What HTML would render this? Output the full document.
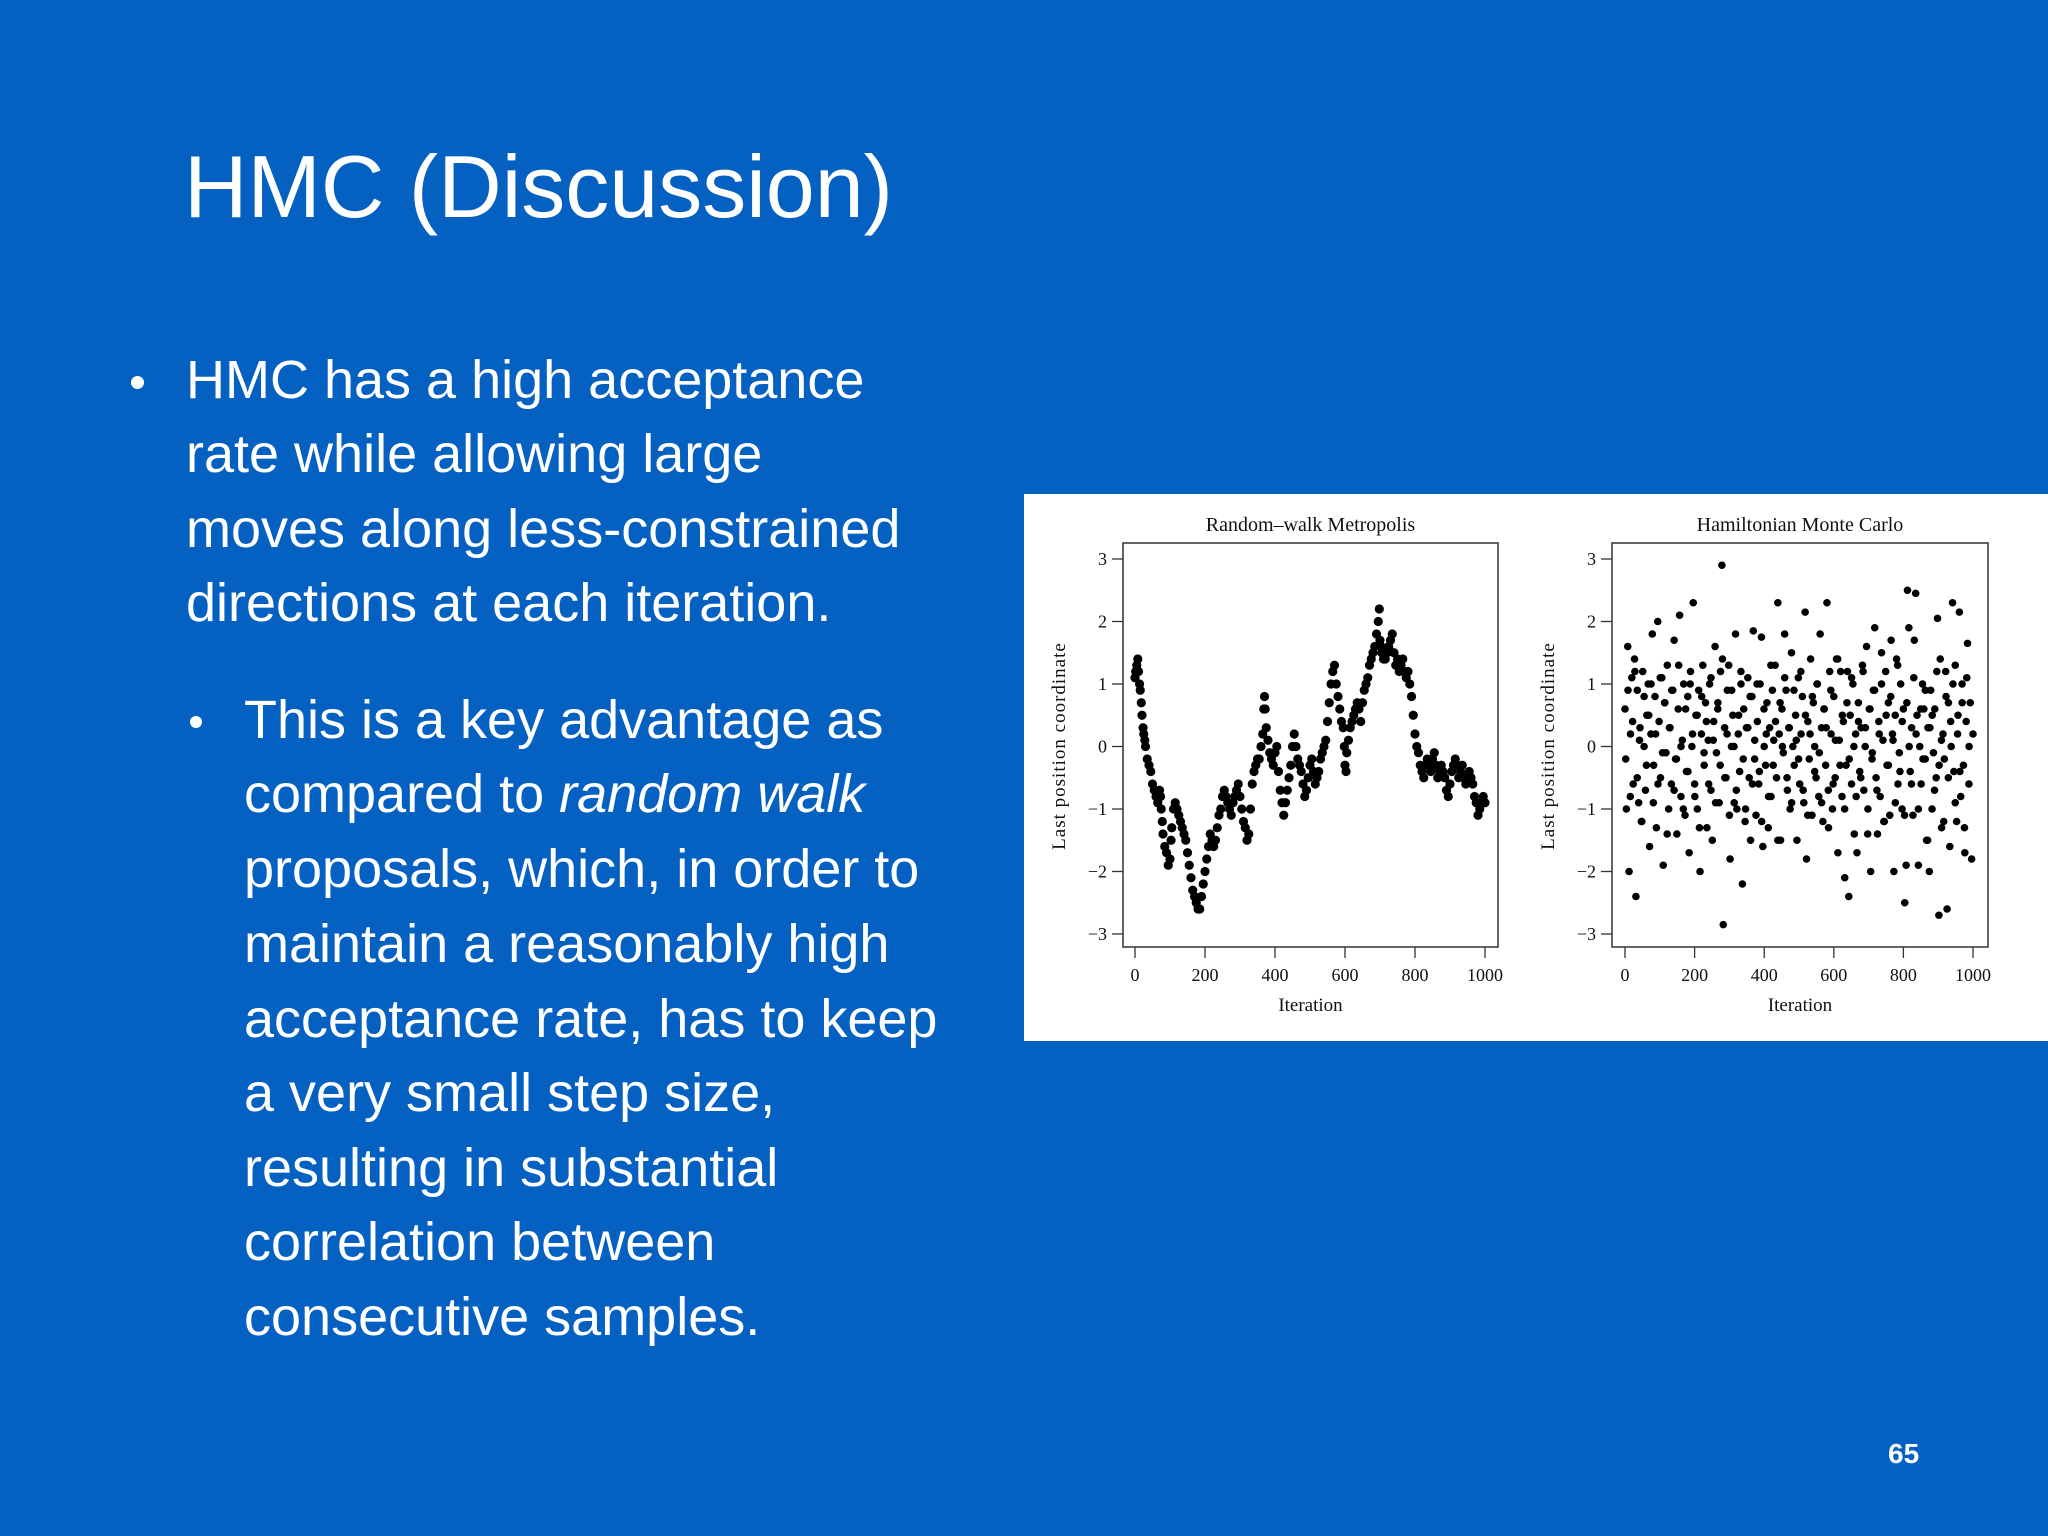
<!DOCTYPE html>
<html><head><meta charset="utf-8">
<style>
body{margin:0;width:2048px;height:1536px;background:#0561c1;overflow:hidden;position:relative;font-family:"Liberation Sans",sans-serif;color:#fff}
.t{position:absolute;white-space:nowrap;line-height:1}
.l{position:absolute;white-space:nowrap;font-size:54px;line-height:74px;height:74px}
.b{position:absolute;width:13px;height:13px;border-radius:50%;background:#fff}
</style></head><body>
<div class="t" style="left:184px;top:143px;font-size:88px">HMC (Discussion)</div>
<div class="b" style="left:131px;top:376px"></div>
<div>
<div class="l" style="left:186px;top:343px">HMC has a high acceptance</div>
<div class="l" style="left:186px;top:417px">rate while allowing large</div>
<div class="l" style="left:186px;top:492px">moves along less-constrained</div>
<div class="l" style="left:186px;top:566px">directions at each iteration.</div>
</div>
<div class="b" style="left:190px;top:716px;width:12px;height:12px"></div>
<div>
<div class="l" style="left:244px;top:683px">This is a key advantage as</div>
<div class="l" style="left:244px;top:757px">compared to <i>random walk</i></div>
<div class="l" style="left:244px;top:832px">proposals, which, in order to</div>
<div class="l" style="left:244px;top:907px">maintain a reasonably high</div>
<div class="l" style="left:244px;top:982px">acceptance rate, has to keep</div>
<div class="l" style="left:244px;top:1056px">a very small step size,</div>
<div class="l" style="left:244px;top:1131px">resulting in substantial</div>
<div class="l" style="left:244px;top:1205px">correlation between</div>
<div class="l" style="left:244px;top:1280px">consecutive samples.</div>
</div>
<div class="t" style="left:1888px;top:1440px;font-size:28px;font-weight:bold">65</div>
<svg id="chart" style="position:absolute;left:1024px;top:494px" width="1024" height="547" font-family="Liberation Serif, serif"></svg>
<script>
const rwIter=[0,5,10,15,20,25,30,40,50,60,70,75,80,90,100,105,115,125,135,145,155,165,175,185,195,205,215,225,235,245,255,265,275,285,295,305,315,325,335,345,355,365,370,375,385,395,405,415,425,435,445,455,465,475,485,495,505,515,525,535,545,555,565,575,585,595,600,605,615,625,635,645,655,665,675,685,695,700,705,715,725,735,745,755,765,775,785,795,805,815,825,835,845,855,865,875,885,895,905,915,925,935,945,955,965,975,985,995];
const rwVal=[1.1,1.3,1.2,0.9,0.5,0.2,0.0,-0.3,-0.6,-0.8,-0.7,-1.0,-1.4,-1.7,-1.8,-1.3,-0.9,-1.1,-1.3,-1.5,-1.9,-2.3,-2.5,-2.6,-2.2,-1.8,-1.4,-1.6,-1.3,-1.0,-0.7,-0.9,-1.1,-0.8,-0.6,-1.0,-1.3,-1.4,-0.6,-0.3,-0.2,0.2,0.8,0.3,-0.1,-0.3,0.0,-0.7,-1.1,-0.7,-0.3,0.2,-0.2,-0.4,-0.8,-0.5,-0.2,-0.6,-0.4,-0.1,0.1,0.7,1.2,1.0,0.6,0.3,-0.3,-0.1,0.3,0.5,0.7,0.4,0.9,1.1,1.4,1.6,2.0,1.7,1.5,1.4,1.6,1.8,1.3,1.2,1.4,1.1,1.0,0.5,0.0,-0.3,-0.5,-0.2,-0.4,-0.1,-0.5,-0.3,-0.5,-0.8,-0.4,-0.2,-0.5,-0.3,-0.6,-0.4,-0.6,-0.9,-1.0,-0.8];
const rwIter2=[2,8,13,18,23,28,35,45,55,65,73,78,85,95,103,110,120,130,140,150,160,170,180,190,200,210,220,230,240,250,260,270,280,290,300,310,320,330,340,350,360,368,372,380,390,400,410,420,430,440,450,460,470,480,490,500,510,520,530,540,550,560,570,580,590,598,603,610,620,630,640,650,660,670,680,690,698,703,710,720,730,740,750,760,770,780,790,800,810,820,830,840,850,860,870,880,890,900,910,920,930,940,950,960,970,980,990,1000];
const rwVal2=[1.2,1.4,1.0,0.7,0.3,0.1,-0.2,-0.4,-0.7,-0.9,-0.8,-1.2,-1.6,-1.9,-1.5,-1.0,-1.0,-1.2,-1.4,-1.7,-2.1,-2.4,-2.6,-2.4,-2.0,-1.6,-1.5,-1.5,-1.1,-0.8,-0.8,-1.0,-0.9,-0.7,-0.8,-1.2,-1.5,-1.0,-0.4,-0.2,0.0,0.6,0.6,0.1,-0.2,-0.1,-0.4,-0.9,-0.9,-0.5,0.0,0.0,-0.3,-0.6,-0.7,-0.3,-0.4,-0.5,-0.2,0.0,0.4,1.0,1.3,0.8,0.4,0.0,-0.4,0.1,0.4,0.6,0.6,0.7,1.0,1.3,1.5,1.8,2.2,1.6,1.4,1.5,1.7,1.5,1.4,1.3,1.2,1.2,0.8,0.2,-0.1,-0.4,-0.3,-0.3,-0.2,-0.3,-0.4,-0.4,-0.7,-0.6,-0.3,-0.3,-0.4,-0.5,-0.5,-0.5,-0.8,-1.1,-0.9,-0.9];
const hmcVal=[0.6,-1.0,1.6,-2.0,0.2,1.1,-0.6,1.4,-2.4,0.9,-0.9,0.3,-1.2,1.2,0.0,-0.7,0.5,1.0,-1.6,0.2,1.8,-0.3,0.8,-1.3,2.0,0.4,-0.5,1.1,-1.9,0.7,-0.1,1.3,-1.0,0.3,-0.6,0.9,1.7,-0.2,-1.4,0.6,2.1,-0.8,0.1,1.0,-1.1,-0.4,0.8,-1.7,1.2,0.0,2.3,-0.6,0.5,-1.0,0.9,-2.0,0.2,1.3,-0.3,0.7,-1.3,0.1,1.0,-0.7,-1.5,0.4,1.6,-0.1,0.6,-0.9,1.2,2.9,-2.85,0.3,-0.5,0.9,1.3,-1.8,0.0,0.5,-0.9,1.8,-1.0,0.2,-0.4,1.0,-2.2,0.6,-1.2,0.3,1.1,-0.5,-1.5,0.8,1.85,-0.2,-1.1,0.4,-0.6,1.0,1.75,-1.6,0.0,-0.3,0.7,-1.3,0.3,-0.8,0.9,0.1,1.3,-0.5,2.3,0.2,-1.5,0.6,-0.1,1.8,0.9,-0.7,0.3,-1.0,1.5,0.0,-0.3,0.5,-1.5,1.1,-0.6,0.2,0.8,-0.9,2.15,-1.8,0.4,-0.2,1.4,-1.1,0.7,0.0,-0.5,1.0,-0.8,1.8,0.3,-1.2,0.6,-0.3,2.3,-0.7,1.2,0.2,-1.0,0.8,-0.5,1.4,-1.7,0.1,1.2,-0.8,0.4,-2.1,-0.3,1.2,-2.4,0.5,-0.6,1.0,-1.4,0.2,-1.7,0.7,-0.4,0.3,1.3,-0.7,0.0,1.6,-1.0,0.6,-2.0,-0.2,0.9,1.9,-0.5,-1.4,0.4,-0.8,1.5,0.1,-1.2,1.2,-0.3,0.7,-1.1,1.7,0.2,-2.0,0.5,1.4,-0.6,-0.1,1.0,-1.0,0.6,-2.5,-1.9,2.5,1.9,-0.4,0.3,-1.1,1.7,2.45,0.5,-1.9,0.0,-0.6,1.0,0.6,-0.2,-1.5,0.3,-2.0,0.9,-1.0,-0.1,0.6,-0.5,2.05,-2.7,1.4,-1.3,0.2,-0.2,1.2,-2.6,0.7,-1.6,0.0,2.3,-0.4,1.3,-1.2,0.5,2.15,-0.8,1.0,-0.3,-1.7,0.4,1.65,-0.6,0.7,-1.8,0.2];
const hmcVal2=[-0.2,0.9,-0.8,0.4,1.2,-0.5,0.1,-1.2,0.8,-0.3,0.5,1.0,-0.9,0.2,-0.6,1.1,-0.1,0.7,-1.4,0.3,0.9,-0.7,-0.2,1.3,0.0,-1.0,0.6,-0.4,1.0,0.2,-0.8,0.5,-1.3,0.8,-0.1,0.4,-0.6,1.1,0.1,-0.9,0.7,-0.3,1.4,-0.5,0.2,-1.1,0.9,0.0,-0.7,0.5,1.2,-0.2,-1.0,0.3,0.8,-0.6,0.1,1.0,-0.4,-1.2,0.6,0.2,-0.8,1.3,-0.3,0.4,-1.5,0.7,0.0,1.1,-0.5,0.3,-0.9,0.9,0.1,-0.2,1.2,-0.7,0.5,-1.1,0.2,0.8,-0.4,1.0,-0.1,-0.9,0.6,0.3,-1.3,0.9,-0.6,0.1,1.4,-0.3,0.5,-1.0,0.7,-0.2,1.1,0.0,-0.8,0.4,-0.5,1.2,0.3,-1.4,0.6,-0.1,0.9,-0.7,0.2,1.0,-1.2,0.5,-0.3,0.8,0.1,-0.9,1.3,-0.4,0.4,-1.1,0.7,0.0,-0.6,1.1,0.2,-1.0,0.6,-0.2,0.9,-1.5,0.3,0.5,-0.7,1.2,-0.3,0.1,-1.2,0.8,-0.5,0.4,1.0,-0.9,0.2,-0.4,0.7,-1.3,1.1,0.0];
const yTicks=[3,2,1,0,-1,-2,-3];
const yTickLabels=["3","2","1","0","\u22121","\u22122","\u22123"];
const xTicks=[0,200,400,600,800,1000];
const xTickLabels=["0","200","400","600","800","1000"];

const svg=document.getElementById('chart');
const NS='http://www.w3.org/2000/svg';
function mk(tag,attrs,parent){const e=document.createElementNS(NS,tag);for(const k in attrs)e.setAttribute(k,attrs[k]);(parent||svg).appendChild(e);return e;}
const bg=mk('rect',{x:0,y:0,width:1024,height:547,fill:'#fff'});


const yScale=v=>252.5-v*62.5;

function panel(name,bx,bw,x0,x1,title,series,r){
  const g=mk('g',{});
  
  
  const xs=i=>x0+(x1-x0)*i/1000;
  const box=mk('rect',{x:bx,y:49,width:bw,height:404,fill:'none',stroke:'#333','stroke-width':1.5},g);
  
  
  const t=mk('text',{x:bx+bw/2,y:37,'text-anchor':'middle','font-size':20,fill:'#111'},g);
  t.textContent=title;
  
  
  yTicks.forEach((v,k)=>{
    const y=yScale(v);
    mk('line',{x1:bx-11,x2:bx,y1:y,y2:y,stroke:'#333','stroke-width':1.3},g);
    const tl=mk('text',{x:bx-16,y:y+6,'text-anchor':'end','font-size':18,fill:'#111'},g);
    tl.textContent=yTickLabels[k];
    
    
  });
  xTicks.forEach((v,k)=>{
    const x=xs(v);
    mk('line',{x1:x,x2:x,y1:453,y2:464,stroke:'#333','stroke-width':1.3},g);
    const tl=mk('text',{x:x,y:487,'text-anchor':'middle','font-size':18,fill:'#111'},g);
    tl.textContent=xTickLabels[k];
    
    
  });
  const xl=mk('text',{x:bx+bw/2,y:517,'text-anchor':'middle','font-size':19,fill:'#111'},g);
  xl.textContent='Iteration';
  
  
  const yl=mk('text',{x:0,y:0,'text-anchor':'middle','font-size':19,fill:'#111','letter-spacing':'1',transform:`translate(${bx-58},252) rotate(-90)`},g);
  yl.textContent='Last position coordinate';
  
  
  series.forEach(s=>{
    s.vals.forEach((v,k)=>{
      const c=mk('circle',{cx:xs(s.iters(k)),cy:yScale(v),r:r,fill:'#000'},g);
      
      
    });
  });
}
panel('rwm-panel',99,375,111,461,'Random\u2013walk Metropolis',
  [{iters:k=>rwIter[k],vals:rwVal},{iters:k=>rwIter2[k],vals:rwVal2}],4.6);
panel('hmc-panel',588,376,601,949,'Hamiltonian Monte Carlo',
  [{iters:k=>k*1000/(hmcVal.length-1),vals:hmcVal},{iters:k=>2+k*1000/(hmcVal2.length+1),vals:hmcVal2}],3.8);
</script>
</body></html>
